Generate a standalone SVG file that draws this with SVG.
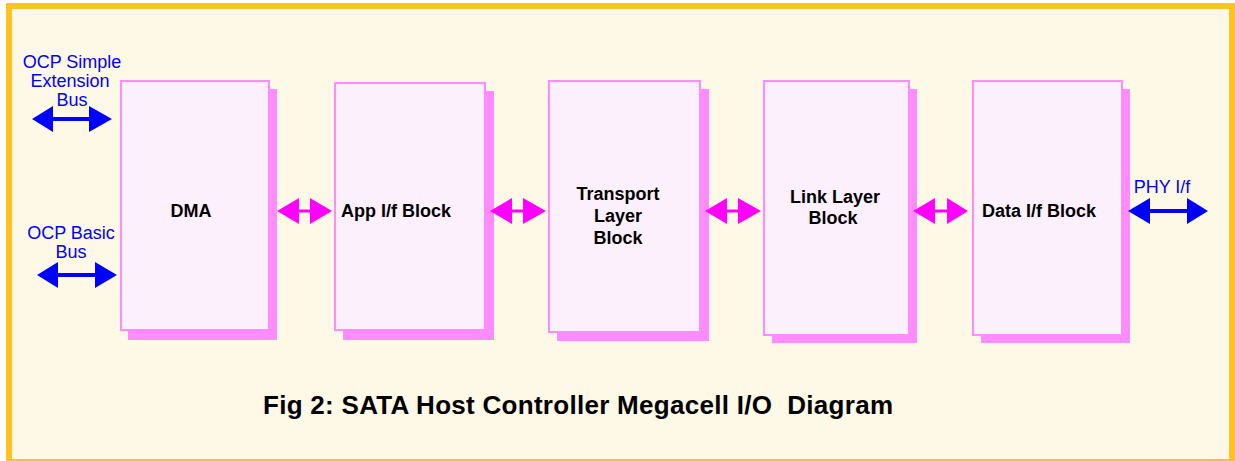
<svg xmlns="http://www.w3.org/2000/svg" width="1235" height="461" viewBox="0 0 1235 461">
  <style>
    .frame { fill: #FEF8E6; stroke: #FFC21E; stroke-width: 6; }
    .shadow { fill: #FF8CFF; }
    .box { fill: #FDF0FD; stroke: #FF8CFF; stroke-width: 2; }
    .label { font-family: "Liberation Sans", Arial, sans-serif; font-weight: bold; font-size: 18px; fill: #000; text-anchor: middle; }
    .bus { font-family: "Liberation Sans", Arial, sans-serif; font-size: 18px; fill: #0000FF; text-anchor: middle; }
    .blue { fill: #0000FF; }
    .mag { fill: #FF00FF; }
    .title { font-family: "Liberation Sans", Arial, sans-serif; font-weight: bold; font-size: 26px; fill: #000; }
  </style>

  <!-- outer frame -->
  <rect class="frame" x="9" y="6" width="1223" height="456"/>

  <!-- blocks: shadow then face -->
  <g id="dma">
    <rect class="shadow" x="128" y="89" width="149" height="251"/>
    <rect class="box" x="121" y="81" width="148" height="249"/>
    <text class="label" x="191" y="217">DMA</text>
  </g>
  <g id="app-if">
    <rect class="shadow" x="343" y="91" width="151" height="249"/>
    <rect class="box" x="335" y="83" width="150" height="247"/>
    <text class="label" x="396" y="217">App I/f Block</text>
  </g>
  <g id="transport">
    <rect class="shadow" x="557" y="89" width="152" height="252"/>
    <rect class="box" x="549" y="81" width="151" height="251"/>
    <text class="label" x="618" y="200">Transport</text>
    <text class="label" x="618" y="222">Layer</text>
    <text class="label" x="618" y="244">Block</text>
  </g>
  <g id="link">
    <rect class="shadow" x="772" y="89" width="145" height="254"/>
    <rect class="box" x="764" y="81" width="145" height="254"/>
    <text class="label" x="835" y="203">Link Layer</text>
    <text class="label" x="833" y="224">Block</text>
  </g>
  <g id="data-if">
    <rect class="shadow" x="981" y="89" width="149" height="254"/>
    <rect class="box" x="973" y="81" width="149" height="254"/>
    <text class="label" x="1039" y="217">Data I/f Block</text>
  </g>

  <!-- connectors -->
  <g id="connectors">
    <!-- external buses -->
    <path class="blue" d="M32,119 L53,106 L53,117 L89,117 L89,106 L112,119 L89,132 L89,121 L53,121 L53,132 Z"/>
    <path class="blue" d="M37,275 L58,262 L58,273 L95,273 L95,262 L117,275 L95,288 L95,277 L58,277 L58,288 Z"/>
    <path class="blue" d="M1128,211 L1150,198 L1150,209 L1187,209 L1187,198 L1208,211 L1187,224 L1187,213 L1150,213 L1150,224 Z"/>
    <text class="bus" x="72" y="68">OCP Simple</text>
    <text class="bus" x="70" y="87">Extension</text>
    <text class="bus" x="72" y="106">Bus</text>
    <text class="bus" x="71" y="239">OCP Basic</text>
    <text class="bus" x="71" y="258">Bus</text>
    <text class="bus" x="1162" y="193">PHY I/f</text>

    <!-- block-to-block links -->
    <path class="mag" d="M277,211 L299,198 L299,209.5 L310,209.5 L310,198 L332,211 L310,224 L310,212.5 L299,212.5 L299,224 Z"/>
    <path class="mag" d="M490,211 L512,198 L512,209.5 L523,209.5 L523,198 L546,211 L523,224 L523,212.5 L512,212.5 L512,224 Z"/>
    <path class="mag" d="M705,211 L727,198 L727,209.5 L738,209.5 L738,198 L761,211 L738,224 L738,212.5 L727,212.5 L727,224 Z"/>
    <path class="mag" d="M913,211 L935,198 L935,209.5 L947,209.5 L947,198 L968,211 L947,224 L947,212.5 L935,212.5 L935,224 Z"/>
  </g>

  <!-- caption -->
  <text class="title" x="263" y="414" xml:space="preserve" textLength="630" lengthAdjust="spacing">Fig 2: SATA Host Controller Megacell I/O  Diagram</text>
</svg>
